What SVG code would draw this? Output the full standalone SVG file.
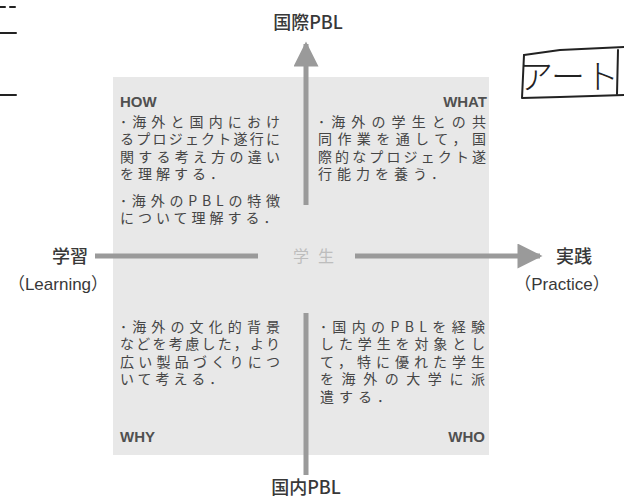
<svg xmlns="http://www.w3.org/2000/svg" width="624" height="501" viewBox="0 0 624 501">
  <defs>
    <style>
      .jp { font-family: "Noto Sans CJK JP", "Noto Sans", sans-serif; fill: #454545; }
      .body { font-size: 14px; }
      .head { font-family: "Liberation Sans", Arial, sans-serif; font-weight: bold; font-size: 15px; fill: #505050; }
      .axis { font-family: "Noto Sans CJK JP", "Noto Sans", sans-serif; font-size: 18px; font-weight: 500; fill: #383838; }
      .paren { font-family: "Liberation Sans", "Noto Sans CJK JP", sans-serif; font-size: 17px; fill: #383838; }
      .line { stroke: #9a9a9a; stroke-width: 5; fill: none; }
      .hand { stroke: #222; stroke-width: 2; fill: none; stroke-linecap: round; stroke-linejoin: round; }
    </style>
    <marker id="ah" viewBox="0 0 10 10" refX="9" refY="5" markerWidth="5.5" markerHeight="5" orient="auto" markerUnits="strokeWidth">
      <path d="M0,0 L10,5 L0,10 Z" fill="#9a9a9a"/>
    </marker>
  </defs>

  <rect width="624" height="501" fill="#ffffff"/>

  <!-- scanner marks at top left -->
  <g id="margin-marks" class="hand" stroke="#555" stroke-width="1.5">
    <line x1="0" y1="7" x2="5" y2="7"/>
    <line x1="10" y1="7" x2="15" y2="7"/>
    <line x1="0" y1="33" x2="16" y2="33"/>
    <line x1="0" y1="95" x2="16" y2="95"/>
  </g>

  <!-- background square -->
  <g id="matrix">
    <rect x="113" y="77" width="376" height="378" fill="#e8e8e8"/>
  </g>

  <!-- connectors -->
  <g id="connectors">
    <line class="line" x1="306" y1="205" x2="306" y2="44" marker-end="url(#ah)"/>
    <line class="line" x1="306" y1="313" x2="306" y2="475"/>
    <line class="line" x1="95" y1="256" x2="258" y2="256"/>
    <line class="line" x1="355" y1="256" x2="540" y2="256" marker-end="url(#ah)"/>
  </g>

  <g id="node-top">
    <text class="axis" x="308" y="29" text-anchor="middle">国際PBL</text>
  </g>
  <g id="node-bottom">
    <text class="axis" x="306" y="494" text-anchor="middle">国内PBL</text>
  </g>
  <g id="node-left">
    <text class="axis" x="70" y="263" text-anchor="middle">学習</text>
    <text class="paren" x="58" y="290" text-anchor="middle">（Learning）</text>
  </g>
  <g id="node-right">
    <text class="axis" x="574" y="263" text-anchor="middle">実践</text>
    <text class="paren" x="562" y="290" text-anchor="middle">（Practice）</text>
  </g>
  <g id="node-center">
    <text x="318" y="262" text-anchor="middle" font-family="Noto Sans CJK JP, sans-serif" font-size="16" fill="#bdbdbd" letter-spacing="9">学生</text>
  </g>

  <g id="node-how">
    <text class="head" x="120" y="107">HOW</text>
    <g class="jp body">
      <text x="120" y="127" textLength="160" lengthAdjust="spacing">･海外と国内におけ</text>
      <text x="120" y="144" textLength="160" lengthAdjust="spacing">るプロジェクト遂行に</text>
      <text x="120" y="162" textLength="160" lengthAdjust="spacing">関する考え方の違い</text>
      <text x="120" y="179" letter-spacing="4">を理解する．</text>
      <text x="120" y="206" textLength="160" lengthAdjust="spacing">･海外のPBLの特徴</text>
      <text x="120" y="223" letter-spacing="4">について理解する．</text>
    </g>
  </g>

  <g id="node-what">
    <text class="head" x="487" y="107" text-anchor="end">WHAT</text>
    <g class="jp body">
      <text x="318" y="127" textLength="168" lengthAdjust="spacing">･海外の学生との共</text>
      <text x="318" y="144" textLength="168" lengthAdjust="spacing">同作業を通して，国</text>
      <text x="318" y="162" textLength="168" lengthAdjust="spacing">際的なプロジェクト遂</text>
      <text x="318" y="179" letter-spacing="5">行能力を養う．</text>
    </g>
  </g>

  <g id="node-why">
    <g class="jp body">
      <text x="120" y="332" textLength="160" lengthAdjust="spacing">･海外の文化的背景</text>
      <text x="120" y="349" textLength="160" lengthAdjust="spacing">などを考慮した，より</text>
      <text x="120" y="367" textLength="160" lengthAdjust="spacing">広い製品づくりにつ</text>
      <text x="120" y="384" letter-spacing="4">いて考える．</text>
    </g>
    <text class="head" x="120" y="442">WHY</text>
  </g>

  <g id="node-who">
    <g class="jp body">
      <text x="320" y="332" textLength="165" lengthAdjust="spacing">･国内のPBLを経験</text>
      <text x="320" y="349" textLength="165" lengthAdjust="spacing">した学生を対象とし</text>
      <text x="320" y="367" textLength="165" lengthAdjust="spacing">て，特に優れた学生</text>
      <text x="320" y="384" textLength="165" lengthAdjust="spacing">を海外の大学に派</text>
      <text x="320" y="402" letter-spacing="5">遣する．</text>
    </g>
    <text class="head" x="485" y="442" text-anchor="end">WHO</text>
  </g>

  <!-- handwritten note -->
  <g id="note-art">
    <path class="hand" d="M524,55 L560,50 L624,47"/>
    <path class="hand" d="M524,55 L522,98 L560,97 L624,95"/>
    <path class="hand" d="M618,50 L617,94"/>
    <text x="569" y="89" text-anchor="middle" font-family="Noto Sans CJK JP, sans-serif" font-weight="300" font-size="34" fill="#222">アート</text>
  </g>
</svg>
